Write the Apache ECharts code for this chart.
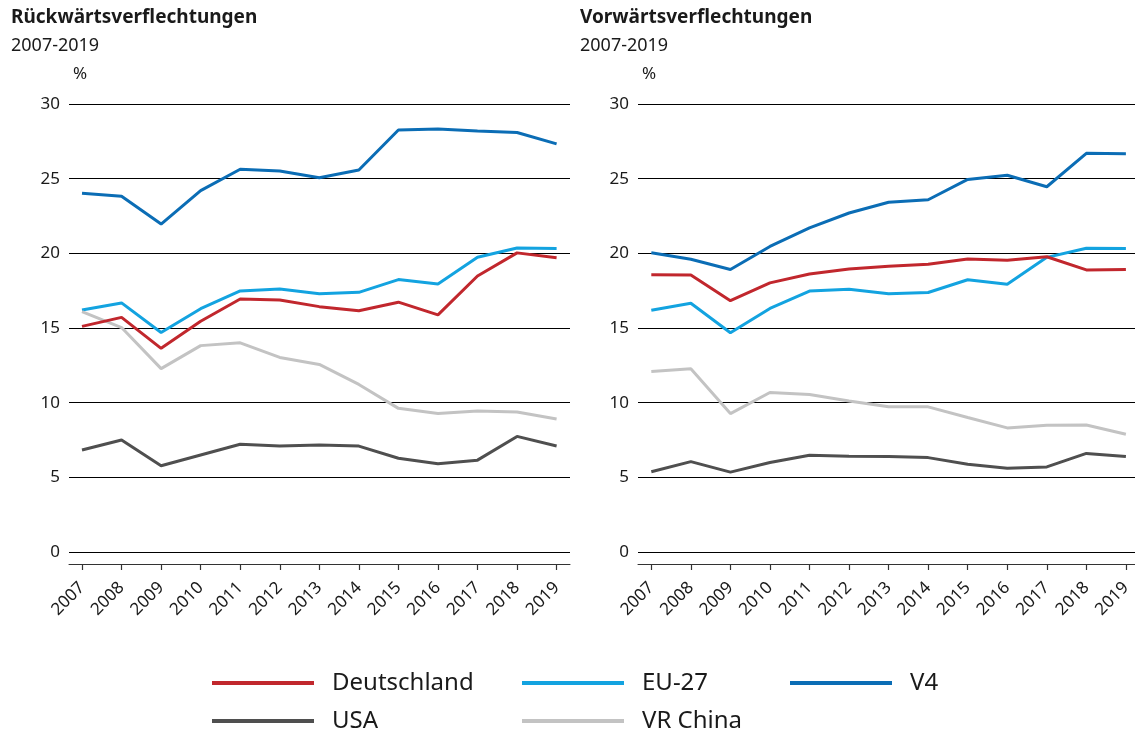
<!DOCTYPE html>
<html>
<head>
<meta charset="utf-8">
<script src="https://cdn.jsdelivr.net/npm/echarts@6/dist/echarts.min.js"></script>
<style>
html,body{margin:0;padding:0;background:#fff;}
#c{width:1135px;height:733px;}
</style>
</head>
<body>
<div id="c"></div>
<script>
var years = ['2007','2008','2009','2010','2011','2012','2013','2014','2015','2016','2017','2018','2019'];
var yTicks = [0, 5, 10, 15, 20, 25, 30];
var seriesNames = ['Deutschland', 'EU-27', 'V4', 'USA', 'VR China'];

// Rückwärtsverflechtungen (left panel)
var backDE   = [15.11, 15.71, 13.64, 15.45, 16.94, 16.88, 16.43, 16.16, 16.73, 15.88, 18.48, 20.03, 19.71];
var backEU   = [16.21, 16.68, 14.70, 16.29, 17.48, 17.61, 17.30, 17.39, 18.24, 17.95, 19.74, 20.36, 20.33];
var backV4   = [24.02, 23.82, 21.96, 24.20, 25.63, 25.51, 25.06, 25.58, 28.26, 28.33, 28.19, 28.09, 27.33];
var backUSA  = [6.83, 7.50, 5.78, 6.50, 7.22, 7.10, 7.17, 7.09, 6.28, 5.91, 6.15, 7.74, 7.10];
var backCN   = [16.10, 15.03, 12.28, 13.82, 14.01, 13.03, 12.56, 11.22, 9.62, 9.28, 9.44, 9.38, 8.91];

// Vorwärtsverflechtungen (right panel)
var fwdDE    = [18.56, 18.55, 16.83, 18.02, 18.62, 18.95, 19.13, 19.27, 19.62, 19.53, 19.77, 18.89, 18.92];
var fwdEU    = [16.19, 16.66, 14.68, 16.31, 17.47, 17.60, 17.29, 17.38, 18.23, 17.93, 19.73, 20.34, 20.32];
var fwdV4    = [20.04, 19.60, 18.92, 20.46, 21.70, 22.70, 23.42, 23.59, 24.95, 25.23, 24.46, 26.70, 26.67];
var fwdUSA   = [5.37, 6.05, 5.35, 5.99, 6.48, 6.41, 6.39, 6.32, 5.88, 5.61, 5.70, 6.60, 6.40];
var fwdCN    = [12.09, 12.27, 9.27, 10.68, 10.55, 10.11, 9.72, 9.72, 9.01, 8.31, 8.49, 8.51, 7.89];

var colors = {
  'Deutschland': '#c1272d',
  'EU-27': '#13a3e0',
  'V4': '#0b6db5',
  'USA': '#4f4f4f',
  'VR China': '#c3c3c3'
};

var FONT = 'Noto Sans';
var TXT = '#1a1a1a';

var panels = [
  {title: 'Rückwärtsverflechtungen', gridLeft: 69, gridW: 501, dataLeft: 82, dataW: 474.6,
   data: [backDE, backEU, backV4, backUSA, backCN]},
  {title: 'Vorwärtsverflechtungen', gridLeft: 638, gridW: 497, dataLeft: 651.3, dataW: 474.6,
   data: [fwdDE, fwdEU, fwdV4, fwdUSA, fwdCN]}
];

var TOP = 104, H = 448;
var grids = [], xAxes = [], yAxes = [], series = [], titles = [];

panels.forEach(function (p, pi) {
  var gA = grids.length;
  grids.push({left: p.gridLeft, top: TOP, width: p.gridW, height: H, containLabel: false});
  grids.push({left: p.dataLeft, top: TOP, width: p.dataW, height: H, containLabel: false});
  // frame axis (grid lines, y labels, bottom axis line)
  xAxes.push({
    gridIndex: gA, type: 'value', min: 0, max: 1, offset: 12, position: 'bottom',
    axisLine: {show: true, onZero: false, lineStyle: {color: '#333', width: 1}},
    axisTick: {show: false}, axisLabel: {show: false}, splitLine: {show: false}
  });
  yAxes.push({
    gridIndex: gA, type: 'value', min: yTicks[0], max: yTicks[yTicks.length - 1], interval: 5,
    axisLine: {show: false}, axisTick: {show: false},
    axisLabel: {show: true, margin: 9, fontSize: 17, color: TXT, fontFamily: FONT},
    splitLine: {show: true, lineStyle: {color: '#000', width: 1}}
  });
  // data axis
  xAxes.push({
    gridIndex: gA + 1, type: 'category', data: years, boundaryGap: false, offset: 12, position: 'bottom',
    axisLine: {show: false, onZero: false},
    axisTick: {show: true, length: 6, lineStyle: {color: '#333', width: 1.2}},
    axisLabel: {show: true, rotate: 45, margin: 21, fontSize: 17, color: TXT, fontFamily: FONT, interval: 0},
    splitLine: {show: false}
  });
  yAxes.push({
    gridIndex: gA + 1, type: 'value', min: yTicks[0], max: yTicks[yTicks.length - 1], interval: 5,
    show: false
  });
  seriesNames.forEach(function (name, si) {
    series.push({
      name: name, type: 'line', xAxisIndex: gA + 1, yAxisIndex: gA + 1,
      data: p.data[si], symbol: 'none', showSymbol: false, smooth: false,
      lineStyle: {color: colors[name], width: 3},
      itemStyle: {color: colors[name]},
      z: si === 0 ? 6 : 5,
      silent: true, animation: false
    });
  });
  var tx = pi === 0 ? 11 : 580;
  titles.push({text: p.title, left: tx, top: 8, padding: 0,
    textStyle: {fontSize: 19, fontWeight: 'bold', color: TXT, fontFamily: FONT}});
  titles.push({text: '2007-2019', left: tx, top: 37, padding: 0,
    textStyle: {fontSize: 18, fontWeight: 'normal', color: TXT, fontFamily: FONT}});
  titles.push({text: '%', left: p.gridLeft + 4, top: 66, padding: 0,
    textStyle: {fontSize: 17, fontWeight: 'normal', color: TXT, fontFamily: FONT}});
});

var legendPos = {
  'Deutschland': [212, 671],
  'EU-27': [522, 671],
  'V4': [790, 671],
  'USA': [212, 709],
  'VR China': [522, 709]
};
var legends = seriesNames.map(function (name) {
  return {
    data: [name], left: legendPos[name][0], top: legendPos[name][1], padding: 0,
    icon: 'rect', itemWidth: 102, itemHeight: 4, selectedMode: false,
    textStyle: {fontSize: 24, color: TXT, fontFamily: FONT, padding: [0, 0, 0, 13]}
  };
});

var chart = echarts.init(document.getElementById('c'), null, {renderer: 'canvas'});
chart.setOption({
  backgroundColor: '#fff',
  animation: false,
  title: titles,
  legend: legends,
  grid: grids,
  xAxis: xAxes,
  yAxis: yAxes,
  series: series
});
</script>
</body>
</html>
